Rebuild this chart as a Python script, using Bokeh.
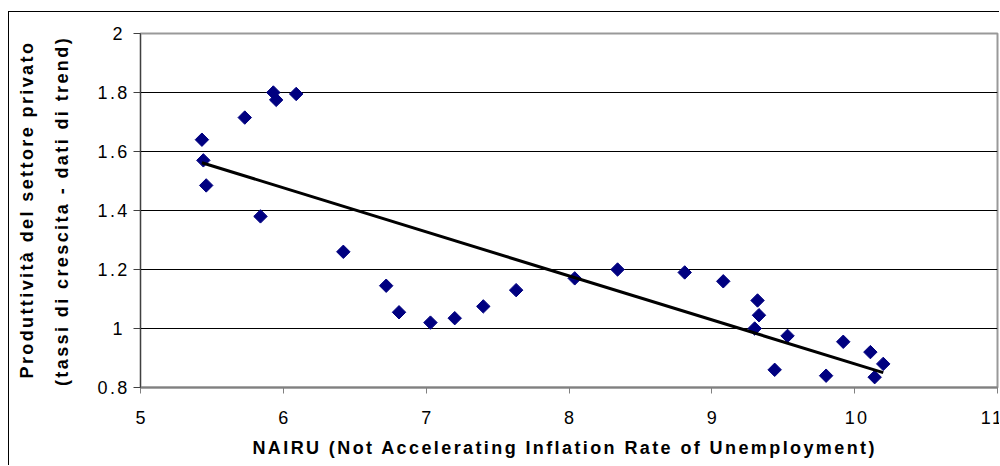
import numpy as np
from bokeh.plotting import figure
from bokeh.models import Range1d, FixedTicker
from bokeh.embed import file_html
from bokeh.resources import INLINE

# Data
nairu = [5.43, 5.44, 5.46, 5.73, 5.84, 5.93, 5.95, 6.09, 6.42, 6.72, 6.81, 7.03,
         7.20, 7.40, 7.63, 8.04, 8.34, 8.81, 9.08, 9.30, 9.32, 9.33, 9.44, 9.53,
         9.80, 9.92, 10.11, 10.14, 10.20]
productivity = [1.64, 1.57, 1.485, 1.715, 1.38, 1.80, 1.775, 1.795, 1.26, 1.145,
                1.055, 1.02, 1.035, 1.075, 1.13, 1.17, 1.20, 1.19, 1.16, 1.00,
                1.095, 1.045, 0.86, 0.975, 0.84, 0.955, 0.92, 0.835, 0.88]
x_ticks = [5, 6, 7, 8, 9, 10, 11]
y_ticks = [0.8, 1.0, 1.2, 1.4, 1.6, 1.8, 2.0]
y_tick_labels = {0.8: "0.8", 1.0: "1", 1.2: "1.2", 1.4: "1.4", 1.6: "1.6", 1.8: "1.8", 2.0: "2"}
x_label = "NAIRU (Not Accelerating Inflation Rate of Unemployment)"
y_label_1 = "Produttività del settore privato"
y_label_2 = "(tassi di crescita - dati di trend)"

FONT = "Liberation Sans"
LS = 2.4  # letter spacing (px) of the original rendering


def pad(s, extra=0):
    # trailing blanks balance the centring of letter-spaced text (invisible)
    return s + " " * (int(round(len(s) * LS / 5.0)) + extra)


p = figure(width=991, height=454, output_backend="svg", toolbar_location=None,
           x_range=Range1d(5, 11), y_range=Range1d(0.8, 2.0),
           min_border_left=131, min_border_top=21, min_border_right=3, min_border_bottom=79)
p.styles = {"border-left": "1px solid #000", "border-top": "1px solid #000",
            "margin-left": "8px", "margin-top": "11px", "letter-spacing": f"{LS}px"}

p.background_fill_color = "white"
p.border_fill_color = "white"
p.outline_line_color = "#999999"
p.outline_line_width = 2

# grid
p.xgrid.grid_line_color = None
p.ygrid.grid_line_color = "black"
p.ygrid.grid_line_width = 1
p.ygrid.ticker = FixedTicker(ticks=y_ticks)

# axes
p.xaxis.ticker = FixedTicker(ticks=x_ticks)
p.yaxis.ticker = FixedTicker(ticks=y_ticks)
p.yaxis.major_label_overrides = y_tick_labels
for ax in (p.xaxis[0], p.yaxis[0]):
    ax.major_tick_in = 0
    ax.minor_tick_in = 0
    ax.minor_tick_out = 0
    ax.major_label_text_font = FONT
    ax.major_label_text_font_size = "18px"
    ax.major_label_text_color = "black"
    ax.axis_label_text_font = FONT
    ax.axis_label_text_font_size = "18px"
    ax.axis_label_text_font_style = "bold"
    ax.axis_label_text_color = "black"

p.yaxis.axis_line_color = "#404040"
p.yaxis.major_tick_line_color = "#404040"
p.yaxis.major_tick_out = 7
p.yaxis.major_label_standoff = 11
p.yaxis.axis_label = pad(y_label_1) + "\n" + pad(y_label_2)
p.yaxis.axis_label_text_line_height = 1.75
p.yaxis.axis_label_standoff = 22

p.xaxis.axis_line_color = "#808080"
p.xaxis.axis_line_width = 2
p.xaxis.major_tick_line_color = "#808080"
p.xaxis.major_tick_out = 6
p.xaxis.major_label_standoff = 17
p.xaxis.axis_label = pad(x_label, 2)
p.xaxis.axis_label_standoff = 11

# trend line (least squares fit of the data, spanning data range)
slope, intercept = np.polyfit(nairu, productivity, 1)
tx = [min(nairu), max(nairu)]
ty = [slope * v + intercept for v in tx]

p.scatter(nairu, productivity, marker="square", size=9.5, angle=np.pi / 4,
          fill_color="#000080", line_color="#000080")
p.line(tx, ty, line_color="black", line_width=3)

open("out.html", "w").write(file_html(p, INLINE))
